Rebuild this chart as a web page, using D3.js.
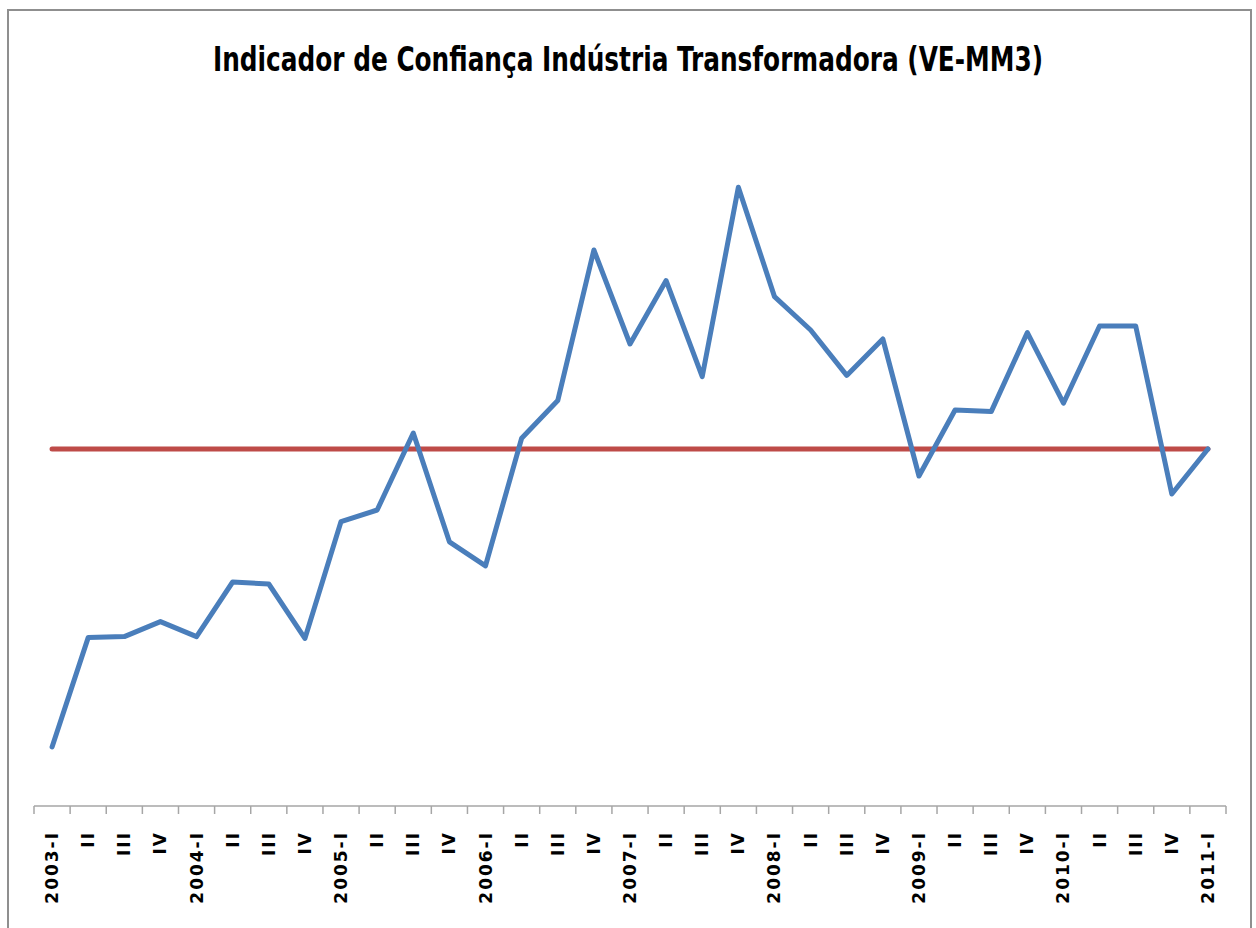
<!DOCTYPE html>
<html>
<head>
<meta charset="utf-8">
<script src="https://cdn.jsdelivr.net/npm/d3@7/dist/d3.min.js"></script>
<style>
  body { margin: 0; background: #fff; }
  .title { font-family: "Liberation Sans Narrow", "DejaVu Sans Condensed", "Liberation Sans", sans-serif; font-weight: bold; }
  .tick text { font-family: "DejaVu Sans", Verdana, sans-serif; font-weight: bold; }
</style>
</head>
<body>
<script>
// quarters, 2003-I .. 2011-I
var quarters = ["2003-I","II","III","IV","2004-I","II","III","IV","2005-I","II","III","IV",
  "2006-I","II","III","IV","2007-I","II","III","IV","2008-I","II","III","IV",
  "2009-I","II","III","IV","2010-I","II","III","IV","2011-I"];

// indicator values (arbitrary units; red line = reference)
var indicator = [-14.9, -9.43, -9.38, -8.63, -9.38, -6.65, -6.75, -9.47,
  -3.63, -3.05, 0.8, -4.64, -5.84, 0.54, 2.42, 9.95,
  5.25, 8.42, 3.62, 13.09, 7.62, 5.95, 3.68, 5.5,
  -1.35, 1.95, 1.87, 5.82, 2.29, 6.15, 6.15, -2.25, 0.0];

var reference = 0;

var width = 1256, height = 928;
var margin = {left: 34, right: 30, top: 127, bottom: 122};

var svg = d3.select("body").append("svg")
  .attr("width", width)
  .attr("height", height);

// chart frame
svg.append("rect")
  .attr("x", 8).attr("y", 10)
  .attr("width", 1243).attr("height", 940)
  .attr("fill", "none")
  .attr("stroke", "#8f8f8f")
  .attr("stroke-width", 2);

svg.append("text")
  .attr("class", "title")
  .attr("x", 628)
  .attr("y", 71)
  .attr("text-anchor", "middle")
  .attr("font-size", 34)
  .attr("textLength", 830)
  .attr("lengthAdjust", "spacingAndGlyphs")
  .text("Indicador de Confiança Indústria Transformadora (VE-MM3)");

var x = d3.scaleBand()
  .domain(d3.range(quarters.length))
  .range([margin.left, width - margin.right]);

var y = d3.scaleLinear()
  .domain([-17.85, 16.1])
  .range([height - margin.bottom, margin.top]);

// x axis with ticks on category boundaries (excel style)
var axisY = y(-17.85);
var bounds = d3.range(quarters.length + 1).map(function(i) {
  return margin.left + i * x.bandwidth();
});

var axis = svg.append("g");
axis.append("line")
  .attr("x1", bounds[0]).attr("x2", bounds[bounds.length - 1])
  .attr("y1", axisY).attr("y2", axisY)
  .attr("stroke", "#a6a6a6")
  .attr("stroke-width", 1.5);

axis.selectAll(".tk")
  .data(bounds)
  .enter()
  .append("line")
    .attr("x1", function(d) { return d; })
    .attr("x2", function(d) { return d; })
    .attr("y1", axisY)
    .attr("y2", axisY + 8)
    .attr("stroke", "#a6a6a6")
    .attr("stroke-width", 1.5);

axis.selectAll(".tick")
  .data(quarters)
  .enter()
  .append("g")
    .attr("class", "tick")
    .attr("transform", function(d, i) {
      return "translate(" + (x(i) + x.bandwidth() / 2 + 6) + "," + (axisY + 25) + ") rotate(-90)";
    })
  .append("text")
    .attr("text-anchor", "end")
    .attr("font-size", 17)
    .attr("letter-spacing", 2)
    .attr("fill", "#000")
    .text(function(d) { return d; });

var cx = function(i) { return x(i) + x.bandwidth() / 2; };

// reference line
svg.append("line")
  .attr("x1", cx(0))
  .attr("x2", cx(quarters.length - 1))
  .attr("y1", y(reference))
  .attr("y2", y(reference))
  .attr("stroke", "#be4b48")
  .attr("stroke-width", 5)
  .attr("stroke-linecap", "round");

var line = d3.line()
  .x(function(d, i) { return cx(i); })
  .y(function(d) { return y(d); });

svg.append("path")
  .datum(indicator)
  .attr("d", line)
  .attr("fill", "none")
  .attr("stroke", "#4a7ebb")
  .attr("stroke-width", 5)
  .attr("stroke-linejoin", "round")
  .attr("stroke-linecap", "round");
</script>
</body>
</html>
